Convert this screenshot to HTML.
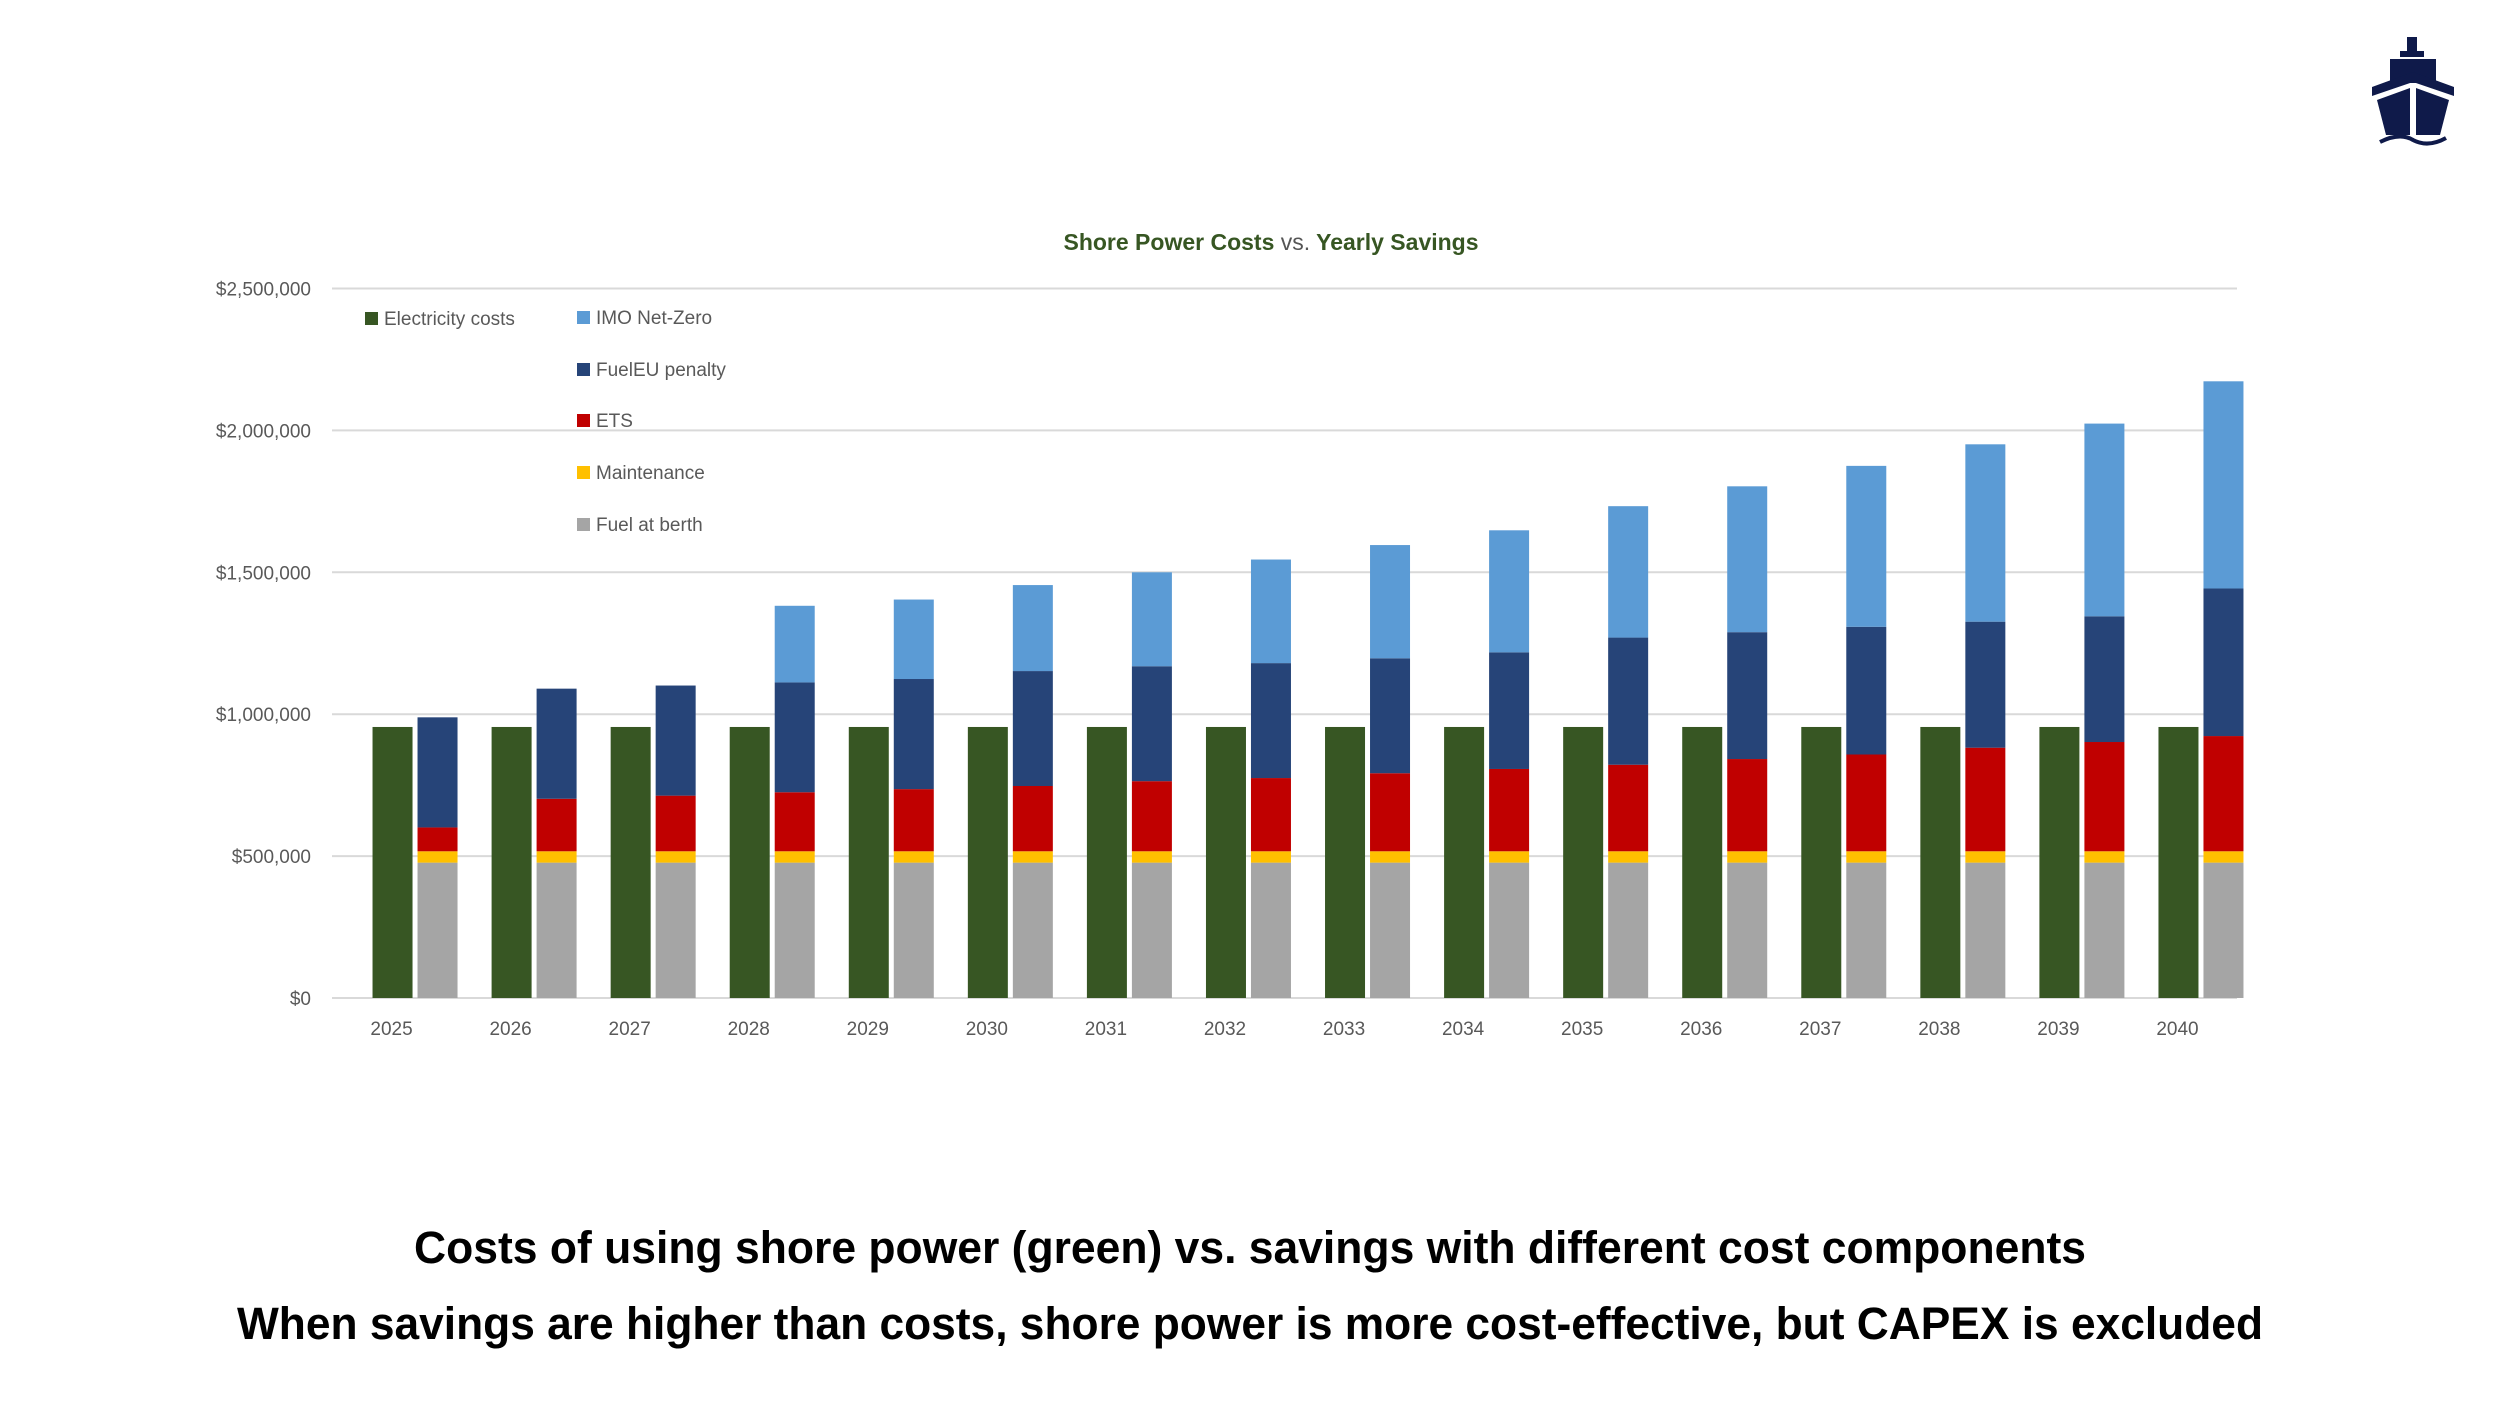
<!DOCTYPE html>
<html><head><meta charset="utf-8"><style>
html,body{margin:0;padding:0;background:#fff;}
svg{display:block;font-family:"Liberation Sans",sans-serif;}
</style></head><body>
<svg id="chart" width="2500" height="1406" viewBox="0 0 2500 1406">
  <g fill="#0f1a4a">
    <rect x="2407" y="37" width="10" height="14"/>
    <rect x="2400" y="51" width="24" height="6"/>
    <rect x="2390" y="59" width="46" height="24"/>
    <polygon points="2372,87 2413,72 2454,87 2454,96 2413,82 2372,96"/>
    <polygon points="2377,100 2410,88 2410,135 2386,135"/>
    <polygon points="2416,88 2449,100 2440,135 2416,135"/>
    <path d="M2380,142 Q2400,132 2413,140 Q2428,148 2446,138" stroke="#0f1a4a" stroke-width="4" fill="none"/>
  </g>
  <text x="1271" y="250" text-anchor="middle" font-size="23" font-weight="bold" fill="#375623">Shore Power Costs <tspan fill="#555" font-weight="normal">vs.</tspan> Yearly Savings</text>
  <g id="grid"></g>
  <g id="yaxis"></g>
  <g id="bars"></g>
  <g id="xaxis"></g>
  <g id="legend"></g>
  <text x="1250" y="1263" text-anchor="middle" font-size="45" font-weight="bold" fill="#000" textLength="1672" lengthAdjust="spacingAndGlyphs">Costs of using shore power (green) vs. savings with different cost components</text>
  <text x="1250" y="1339" text-anchor="middle" font-size="45" font-weight="bold" fill="#000" textLength="2026" lengthAdjust="spacingAndGlyphs">When savings are higher than costs, shore power is more cost-effective, but CAPEX is excluded</text>
</svg>
<script>
const years = ["2025","2026","2027","2028","2029","2030","2031","2032","2033","2034","2035","2036","2037","2038","2039","2040"];
const electricity = [955000,955000,955000,955000,955000,955000,955000,955000,955000,955000,955000,955000,955000,955000,955000,955000];
const fuelAtBerth = [477000,477000,477000,477000,477000,477000,477000,477000,477000,477000,477000,477000,477000,477000,477000,477000];
const maintenance = [40000,40000,40000,40000,40000,40000,40000,40000,40000,40000,40000,40000,40000,40000,40000,40000];
const ets = [84000,185000,196000,208000,219000,230000,247000,258000,275000,290000,305000,325000,341000,365000,385000,406000];
const fuelEU = [388000,388000,388000,387000,388000,405000,405000,405000,405000,411000,448000,447000,450000,444000,443000,520000];
const imoNetZero = [0,0,0,270000,280000,303000,331000,365000,399000,430000,463000,514000,567000,625000,679000,730000];
const yTicks = [0,500000,1000000,1500000,2000000,2500000];
const yTickLabels = ["$0","$500,000","$1,000,000","$1,500,000","$2,000,000","$2,500,000"];

const NS="http://www.w3.org/2000/svg";
const X0=332, X1=2237, Y0=998, YPER=141.9/500000;
const catW=(X1-X0)/years.length;
function y(v){return Y0 - v*YPER;}
function cx(i){return X0 + catW*(i+0.5);}
function mk(tag,attrs,parent){const e=document.createElementNS(NS,tag);for(const k in attrs)e.setAttribute(k,attrs[k]);parent.appendChild(e);return e;}

const grid=document.getElementById('grid'), yax=document.getElementById('yaxis');
yTicks.forEach((t,i)=>{
  const l=mk('line',{x1:X0,x2:X1,y1:y(t),y2:y(t),stroke:'#d9d9d9','stroke-width':2},grid);
  
  
  const tx=mk('text',{x:311,y:y(t)+7,'text-anchor':'end','font-size':19,fill:'#595959'},yax);
  tx.textContent=yTickLabels[i];
  
  
});

const bars=document.getElementById('bars'), xax=document.getElementById('xaxis');
const stackSeries=[[fuelAtBerth,'#a5a5a5','fuel-at-berth'],[maintenance,'#ffc000','maintenance'],[ets,'#c00000','ets'],[fuelEU,'#264478','fueleu-penalty'],[imoNetZero,'#5b9bd5','imo-net-zero']];
const bw=40;
years.forEach((yr,i)=>{
  const c=cx(i);
  const g=mk('rect',{x:c-19,y:y(electricity[i]),width:bw,height:Y0-y(electricity[i]),fill:'#375623'},bars);
  
  
  let base=0;
  stackSeries.forEach(s=>{
    const v=s[0][i]; if(v<=0) return;
    const r=mk('rect',{x:c+26,y:y(base+v),width:bw,height:y(base)-y(base+v),fill:s[1]},bars);
    
    
    base+=v;
  });
  const t=mk('text',{x:c,y:1035,'text-anchor':'middle','font-size':19,fill:'#595959'},xax);
  t.textContent=yr;
  
  
});

const legend=document.getElementById('legend');
const legItems=[['Electricity costs','#375623',365,319],['IMO Net-Zero','#5b9bd5',577,318],['FuelEU penalty','#264478',577,370],['ETS','#c00000',577,421],['Maintenance','#ffc000',577,473],['Fuel at berth','#a5a5a5',577,525]];
legItems.forEach(it=>{
  const s=mk('rect',{x:it[2],y:it[3]-7,width:13,height:13,fill:it[1]},legend);
  
  
  const t=mk('text',{x:it[2]+19,y:it[3]+6,'font-size':19,fill:'#595959'},legend);
  t.textContent=it[0];
  
  
});
</script>
</body></html>
